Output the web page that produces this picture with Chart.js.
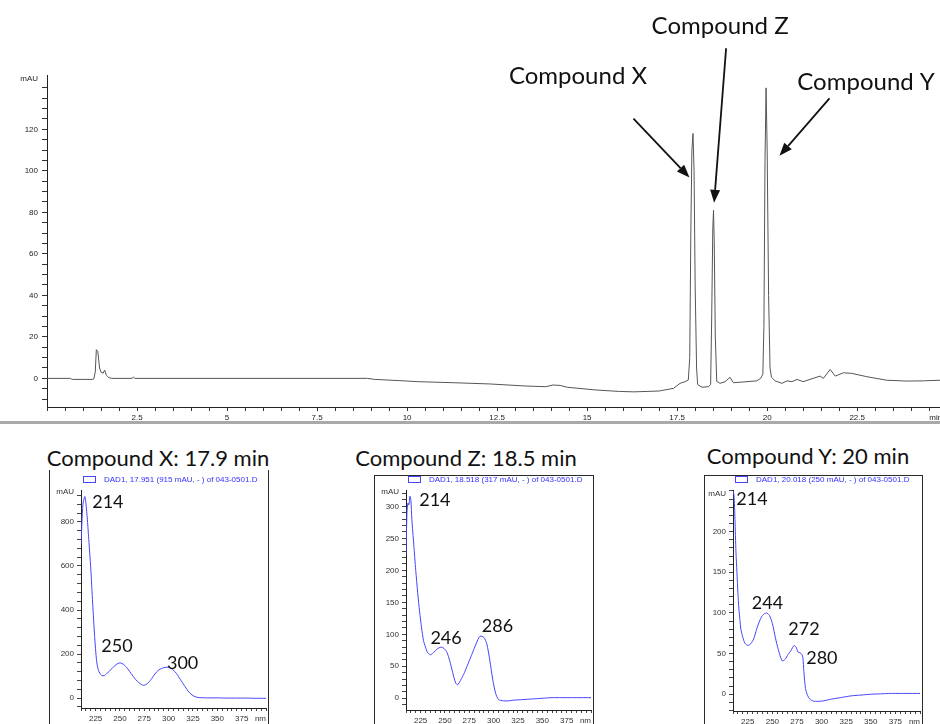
<!DOCTYPE html>
<html>
<head>
<meta charset="utf-8">
<script src="https://cdn.jsdelivr.net/npm/chart.js@4/dist/chart.umd.min.js"></script>
<style>
  html, body { margin: 0; padding: 0; background: #fff; width: 940px; height: 724px; overflow: hidden; }
  .abs { position: absolute; }
  .ttl { position: absolute; font-family: Lato, "Open Sans", sans-serif; font-size: 22px; line-height: 22px;
         color: #111; white-space: nowrap; transform: translateX(-50%); }
  .frame { position: absolute; box-sizing: border-box; border: 0 solid #2a2a2a; }
</style>
</head>
<body>
<div class="abs" style="left:0;top:0;width:940px;height:424px;overflow:hidden;">
  <canvas id="chrom" width="960" height="424"></canvas>
</div>
<div class="abs" style="left:0;top:421px;width:940px;height:3px;background:#a9a9a9;"></div>

<div class="ttl" id="t0" style="left:158px;top:447px;"></div>
<div class="ttl" id="t1" style="left:466px;top:447px;"></div>
<div class="ttl" id="t2" style="left:808px;top:445px;"></div>

<div class="frame" style="left:49px;top:470px;width:220px;height:260px;border-left-width:1px;border-right-width:1px;"></div>
<div class="frame" style="left:374px;top:475px;width:220px;height:260px;border-width:1px 1px 0 1px;"></div>
<div class="frame" style="left:704px;top:475px;width:219px;height:260px;border-width:1px 1px 0 1px;"></div>

<canvas id="specX" class="abs" style="left:49px;top:475px;" width="220" height="249"></canvas>
<canvas id="specZ" class="abs" style="left:374px;top:475px;" width="220" height="249"></canvas>
<canvas id="specY" class="abs" style="left:704px;top:475px;" width="219" height="249"></canvas>

<script>
// ---- Chromatogram: DAD signal (mAU) against retention time (min) ----
const chromTime = [
  0, 0.65, 0.70, 1.25, 1.30, 1.34, 1.37, 1.41, 1.46, 1.50, 1.56, 1.60, 1.65, 1.72, 1.80,
  2.36, 2.40, 2.44,
  8.9, 9.1, 9.8, 10.3, 11.3, 12.3, 13.3, 13.85, 14.05, 14.25, 14.45, 15.25, 15.9, 16.3, 17.0, 17.4, 17.58, 17.72, 17.81,
  17.85, 17.88, 17.91, 17.94, 17.97, 18.00, 18.04, 18.07, 18.19, 18.37,
  18.43, 18.46, 18.49, 18.51, 18.53, 18.56, 18.60, 18.62, 18.69, 18.83, 18.97, 19.06, 19.44, 19.71, 19.82,
  19.88, 19.91, 19.94, 19.97, 20.00, 20.04, 20.08, 20.12, 20.22, 20.41, 20.55, 20.69, 20.83, 21.0, 21.19,
  21.47, 21.56, 21.75, 21.89, 22.12, 22.35, 22.77, 23.32, 23.88, 24.34, 24.8
];
const chromSignal = [
  0, 0, -0.5, -0.5, -0.3, 3, 13.8, 13, 5, 3, 2.5, 4, 1.5, 0.3, 0,
  0, 0.6, 0,
  0, -0.5, -1.1, -1.6, -2.1, -2.7, -3.7, -4.0, -3.2, -3.4, -4.3, -5.6, -6.3, -6.5, -6.1, -4.8, -2.4, -1.6, -0.8,
  10, 70, 110, 118, 100, 45, 5, -3, -4.3, -4.0,
  -3, 30, 72, 81, 66, 20, -1.5, -1.6, -2.4, -1.6, 0.5, -2.1, -1.6, -1.2, 0,
  2, 25, 105, 140, 110, 40, 5, 0.5, -1.2, -2.4, -1.2, -1.6, -0.5, -1.6, -0.5,
  1.1, 0, 4.3, 1.1, 2.7, 2.4, 0.8, -0.9, -1.3, -1.2, -0.9
];
const peakNames = ['Compound X', 'Compound Z', 'Compound Y'];
const peakTimes = [17.94, 18.51, 19.97];
const chromTickLabelsX = [2.5, 5, 7.5, 10, 12.5, 15, 17.5, 20, 22.5];
const chromTickLabelsY = [0, 20, 40, 60, 80, 100, 120];

// ---- UV spectra taken at the apex of each peak (mAU against wavelength in nm) ----
const specXnm  = [210, 212, 214, 216, 218, 220, 222, 224, 226, 228, 231, 234, 238, 242, 246, 250, 254, 258, 262, 266,
                  270, 274, 278, 282, 286, 290, 295, 300, 304, 308, 312, 316, 320, 324, 328, 332, 340, 350, 360, 370, 380, 390, 400];
const specXmAU = [700, 880, 915, 840, 720, 590, 430, 280, 170, 125, 103, 102, 118, 135, 152, 160, 152, 133, 108, 85,
                  68, 58, 65, 85, 110, 128, 138, 140, 130, 112, 85, 58, 32, 14, 5, 2, 1, 1, 0, 0, 0, -1, -1];

const specZnm  = [210, 211, 212, 213, 214, 215, 216, 218, 220, 222, 224, 226, 228, 230, 232, 235, 238, 242, 246, 249,
                  252, 255, 258, 261, 263, 266, 270, 274, 278, 282, 286, 290, 293, 296, 299, 302, 305, 310, 315, 320,
                  330, 340, 350, 360, 370, 380, 390, 400];
const specZmAU = [225, 290, 305, 302, 316, 310, 280, 240, 200, 165, 135, 110, 90, 80, 72, 68, 71, 77, 80, 78,
                  72, 58, 40, 24, 21, 28, 40, 55, 70, 85, 97, 95, 85, 60, 30, 8, -2, -4, -4, -3,
                  -2, -1, 0, 1, 1, 1, 1, 1];

const specYnm  = [210, 211, 212, 213, 214, 215, 216, 217, 218, 220, 222, 225, 228, 231, 234, 237, 240, 244, 247, 250,
                  253, 256, 260, 263, 266, 269, 272, 274, 276, 278, 280, 281, 282, 283, 284, 286, 288, 292, 300, 310,
                  320, 330, 340, 350, 360, 370, 380, 390, 400];
const specYmAU = [250, 245, 215, 175, 150, 125, 105, 92, 80, 70, 63, 60, 62, 68, 80, 90, 97, 100, 97, 87,
                  70, 55, 41, 43, 49, 54, 60, 58, 52, 51, 49, 45, 28, 14, 5, -2, -6, -8.5, -8.5, -6,
                  -4, -2, -1, 0, 0.5, 1, 1, 1, 1];

const specTitles  = ['Compound X: 17.9 min', 'Compound Z: 18.5 min', 'Compound Y: 20 min'];
const specLegends = ['DAD1, 17.951 (915 mAU, - ) of 043-0501.D',
                     'DAD1, 18.518 (317 mAU, - ) of 043-0501.D',
                     'DAD1, 20.018 (250 mAU, - ) of 043-0501.D'];
const specXPeaks = [214, 250, 300];
const specZPeaks = [214, 246, 286];
const specYPeaks = [214, 244, 272, 280];
const nmTickLabels = [225, 250, 275, 300, 325, 350, 375];
const specXTickLabels = [0, 200, 400, 600, 800];
const specZTickLabels = [0, 50, 100, 150, 200, 250, 300];
const specYTickLabels = [0, 50, 100, 150, 200];

// ---------------------------------------------------------------------------
const SMALL_FONT = { family: '"Liberation Sans", Arial, sans-serif', size: 8 };
const HIDDEN = 'rgba(0,0,0,0)';

function tickList(from, to, step) {
  const out = [];
  const n = Math.round((to - from) / step);
  for (let i = 0; i <= n; i++) out.push(+(from + i * step).toFixed(6));
  return out;
}

// Arrows and compound names pointing at the chromatogram peaks
const peakNotesPlugin = {
  id: 'peakNotes',
  afterDatasetsDraw(chart, args, opts) {
    const { ctx } = chart;
    const xs = chart.scales.x, ys = chart.scales.y;
    const pts = chart.data.datasets[0].data;
    ctx.save();
    opts.names.forEach((name, i) => {
      // apex of the peak around its retention time
      let apex = null;
      pts.forEach(p => { if (Math.abs(p.x - opts.times[i]) <= 0.06 && (!apex || p.y > apex.y)) apex = p; });
      const ax = xs.getPixelForValue(apex.x), ay = ys.getPixelForValue(apex.y);
      const g = opts.geometry[i];
      const tipX = ax + g.tip[0], tipY = ay + g.tip[1];
      const tailX = ax + g.tail[0], tailY = ay + g.tail[1];
      const ang = Math.atan2(tipY - tailY, tipX - tailX);
      const headLen = 13, headHalf = 5;
      const baseX = tipX - headLen * Math.cos(ang), baseY = tipY - headLen * Math.sin(ang);
      ctx.strokeStyle = '#111'; ctx.fillStyle = '#111'; ctx.lineWidth = 1.8;
      ctx.beginPath(); ctx.moveTo(tailX, tailY); ctx.lineTo(baseX, baseY); ctx.stroke();
      ctx.beginPath();
      ctx.moveTo(tipX, tipY);
      ctx.lineTo(baseX + headHalf * Math.sin(ang), baseY - headHalf * Math.cos(ang));
      ctx.lineTo(baseX - headHalf * Math.sin(ang), baseY + headHalf * Math.cos(ang));
      ctx.closePath(); ctx.fill();
      ctx.font = '24px Lato, "Open Sans", sans-serif';
      ctx.textAlign = 'center'; ctx.textBaseline = 'middle';
      ctx.fillText(name, ax + g.text[0], ay + g.text[1]);
    });
    ctx.restore();
  }
};

// Legend line above each spectrum (outlined box + dataset label)
const specLegendPlugin = {
  id: 'specLegend',
  afterDraw(chart, args, opts) {
    const { ctx, chartArea } = chart;
    const y = chartArea.top + opts.dy;
    const color = chart.data.datasets[0].borderColor;
    ctx.save();
    ctx.strokeStyle = color; ctx.lineWidth = 1;
    ctx.strokeRect(Math.round(chartArea.left + opts.boxX) + 0.5, Math.round(y - 3.5) + 0.5, 12, 6);
    ctx.fillStyle = '#3030ff';
    ctx.font = '8px "Liberation Sans", Arial, sans-serif';
    ctx.textAlign = 'left'; ctx.textBaseline = 'middle';
    ctx.fillText(chart.data.datasets[0].label, chartArea.left + opts.textX, y);
    ctx.restore();
  }
};

// Wavelength of each absorption maximum written beside the curve
const peakTextPlugin = {
  id: 'peakText',
  afterDatasetsDraw(chart, args, opts) {
    const { ctx } = chart;
    const xs = chart.scales.x, ys = chart.scales.y;
    const pts = chart.data.datasets[0].data;
    ctx.save();
    ctx.font = '18px Lato, "Open Sans", sans-serif';
    ctx.fillStyle = '#111'; ctx.textAlign = 'center'; ctx.textBaseline = 'middle';
    opts.marks.forEach((nm, i) => {
      const p = pts.find(d => d.x === nm);
      ctx.fillText(String(nm), xs.getPixelForValue(p.x) + opts.offsets[i][0], ys.getPixelForValue(p.y) + opts.offsets[i][1]);
    });
    ctx.restore();
  }
};

// ---- chromatogram ----
const T_END = 24.8, UNIT_T = 24.68, UNIT_MAU = 144.5;
new Chart(document.getElementById('chrom'), {
  type: 'line',
  data: {
    datasets: [{
      data: chromTime.map((t, i) => ({ x: t, y: chromSignal[i] })),
      borderColor: '#555555', borderWidth: 1, pointRadius: 0, tension: 0,
      borderJoinStyle: 'round', fill: false
    }]
  },
  options: {
    responsive: false, animation: false, events: [],
    layout: { padding: { left: 0, top: 75, right: 20, bottom: 0 } },
    plugins: {
      legend: { display: false }, tooltip: { enabled: false },
      peakNotes: {
        names: peakNames, times: peakTimes,
        geometry: [
          { tip: [-3.5, 44], tail: [-59.5, -15], text: [-115, -57] },
          { tip: [0.6, -7.5], tail: [12.6, -162], text: [6.6, -184] },
          { tip: [13.4, 68], tail: [63.4, 10.5], text: [100, -6] }
        ]
      }
    },
    scales: {
      x: {
        type: 'linear', min: 0, max: T_END,
        afterBuildTicks: s => { s.ticks = tickList(0, 24.5, 0.5).concat([UNIT_T]).map(v => ({ value: v })); },
        afterFit: s => { s.height = 17; },
        ticks: {
          autoSkip: false, maxRotation: 0, padding: 2, color: '#222', font: SMALL_FONT,
          callback: v => v === UNIT_T ? 'min' : (chromTickLabelsX.includes(v) ? String(v) : '')
        },
        grid: { drawOnChartArea: false, tickLength: 4, tickWidth: 1,
                tickColor: c => (c.tick && c.tick.value === UNIT_T) ? HIDDEN : '#333' },
        border: { color: '#222', width: 1 }
      },
      y: {
        type: 'linear', min: -13.8, max: 146.2,
        afterBuildTicks: s => { s.ticks = tickList(-10, 140, 5).concat([UNIT_MAU]).map(v => ({ value: v })); },
        afterFit: s => { s.width = 47; },
        ticks: {
          autoSkip: false, padding: 4, color: '#222', font: SMALL_FONT,
          callback: v => v === UNIT_MAU ? 'mAU' : (chromTickLabelsY.includes(v) ? String(v) : '')
        },
        grid: { drawOnChartArea: false, tickLength: 5, tickWidth: 1,
                tickColor: c => (c.tick && c.tick.value === UNIT_MAU) ? HIDDEN : '#333' },
        border: { color: '#222', width: 1 }
      }
    }
  },
  plugins: [peakNotesPlugin]
});

// ---- spectra ----
function spectrumChart(id, nm, mAU, legendText, cfg) {
  return new Chart(document.getElementById(id), {
    type: 'line',
    data: {
      datasets: [{
        label: legendText,
        data: nm.map((w, i) => ({ x: w, y: mAU[i] })),
        borderColor: '#4444ff', borderWidth: 1, pointRadius: 0, tension: 0.25,
        borderJoinStyle: 'round', fill: false
      }]
    },
    options: {
      responsive: false, animation: false, events: [],
      layout: { padding: { left: 0, top: 15, right: cfg.padRight, bottom: 0 } },
      plugins: {
        legend: { display: false }, tooltip: { enabled: false },
        specLegend: { dy: -10.5, boxX: 2, textX: 23 },
        peakText: { marks: cfg.peaks, offsets: cfg.offsets }
      },
      scales: {
        x: {
          type: 'linear', min: 210, max: 400,
          afterBuildTicks: s => { s.ticks = tickList(210, 400, 5).map(v => ({ value: v })); },
          afterFit: s => { s.height = cfg.xHeight; },
          ticks: {
            autoSkip: false, maxRotation: 0, padding: 3, align: 'inner', color: '#333', font: SMALL_FONT,
            callback: v => v === 400 ? 'nm' : (nmTickLabels.includes(v) ? String(v) : '')
          },
          grid: { drawOnChartArea: false, tickLength: 3, tickColor: '#444' },
          border: { color: '#222', width: 1 }
        },
        y: {
          type: 'linear', min: cfg.yMin, max: cfg.yMax,
          afterBuildTicks: s => { s.ticks = tickList(cfg.minorFrom, cfg.minorTo, cfg.minorStep).concat([cfg.unitAt]).map(v => ({ value: v })); },
          afterFit: s => { s.width = cfg.yWidth; },
          ticks: {
            autoSkip: false, padding: 3, color: '#333', font: SMALL_FONT,
            callback: v => v === cfg.unitAt ? 'mAU' : (cfg.labels.includes(v) ? String(v) : '')
          },
          grid: { drawOnChartArea: false, tickLength: 4,
                  tickColor: c => (c.tick && c.tick.value === cfg.unitAt) ? HIDDEN : '#444' },
          border: { color: '#222', width: 1 }
        }
      }
    },
    plugins: [specLegendPlugin, peakTextPlugin]
  });
}

spectrumChart('specX', specXnm, specXmAU, specLegends[0], {
  yMin: -45, yMax: 945, minorFrom: -40, minorTo: 920, minorStep: 40, unitAt: 936,
  labels: specXTickLabels, yWidth: 32, padRight: 1, xHeight: 16,
  peaks: specXPeaks, offsets: [[23, 6], [-3, -17], [14, -4.5]]
});
spectrumChart('specZ', specZnm, specZmAU, specLegends[1], {
  yMin: -18.3, yMax: 325.5, minorFrom: -10, minorTo: 320, minorStep: 10, unitAt: 322,
  labels: specZTickLabels, yWidth: 32, padRight: 1, xHeight: 14,
  peaks: specZPeaks, offsets: [[25, 4], [5, -9], [17.5, -10]]
});
spectrumChart('specY', specYnm, specYmAU, specLegends[2], {
  yMin: -20.6, yMax: 251.2, minorFrom: -20, minorTo: 250, minorStep: 10, unitAt: 246,
  labels: specYTickLabels, yWidth: 29, padRight: 1, xHeight: 13,
  peaks: specYPeaks, offsets: [[15, -73], [1, -10], [10, -16], [20, 4]]
});

specTitles.forEach((t, i) => { document.getElementById('t' + i).textContent = t; });
</script>
</body>
</html>
